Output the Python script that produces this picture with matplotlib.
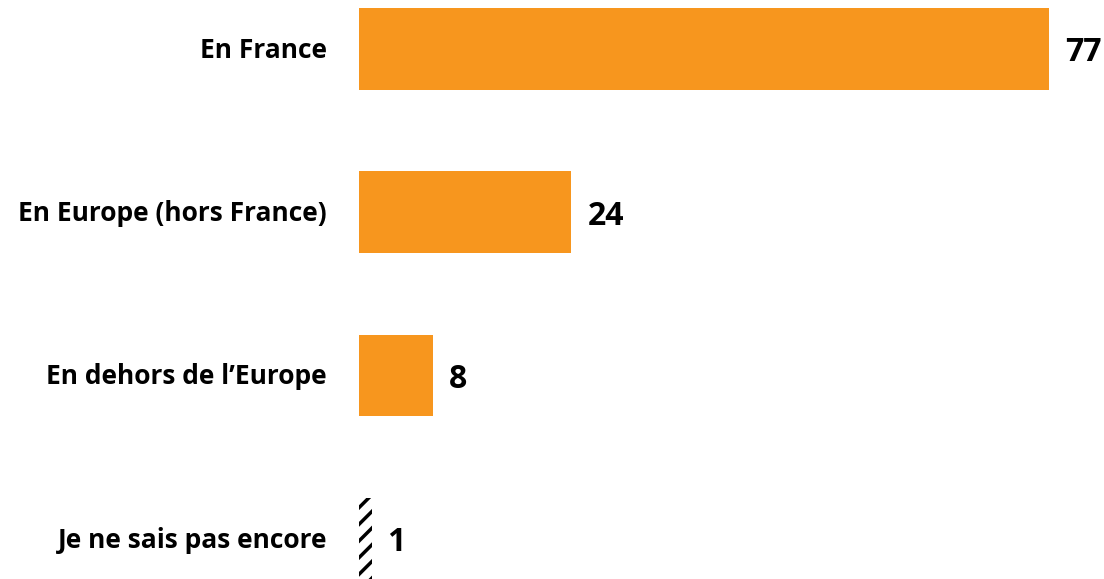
import matplotlib
matplotlib.use("Agg")
import matplotlib.pyplot as plt
from matplotlib.transforms import offset_copy

categories = ["En France", "En Europe (hors France)", "En dehors de l\u2019Europe", "Je ne sais pas encore"]
labels = ["77", "24", "8", "1"]
bar_values = [77, 23.7, 8.3, 1.4]
hatched = [False, False, False, True]

plt.rcParams['font.family'] = ['Open Sans', 'DejaVu Sans']
plt.rcParams['hatch.linewidth'] = 2.5
plt.rcParams['hatch.color'] = 'black'

fig = plt.figure(figsize=(11.04, 5.79), dpi=100)
ax = fig.add_axes([359/1104, 0, 1 - 359/1104, 1])
ax.set_xlim(0, (1104 - 359) / 8.96)
ax.set_ylim(3.248, -0.300)

for y, (cat, lab, v, h) in enumerate(zip(categories, labels, bar_values, hatched)):
    if h:
        ax.barh(y, v, height=0.5, color='white', edgecolor='black', hatch='//', linewidth=0)
    else:
        ax.barh(y, v, height=0.5, color='#F7961E', linewidth=0)
    t = offset_copy(ax.transData, fig=fig, x=16, y=-12.5, units='dots')
    ax.text(v, y, lab, transform=t, ha='left', va='baseline', fontsize=23, fontweight='bold', color='black')
    tl = offset_copy(ax.transData, fig=fig, x=-32, y=-9, units='dots')
    ax.text(0, y, cat, transform=tl, ha='right', va='baseline', fontsize=19, fontweight='bold', color='black')

ax.axis('off')
fig.savefig("out.png", dpi=100)
